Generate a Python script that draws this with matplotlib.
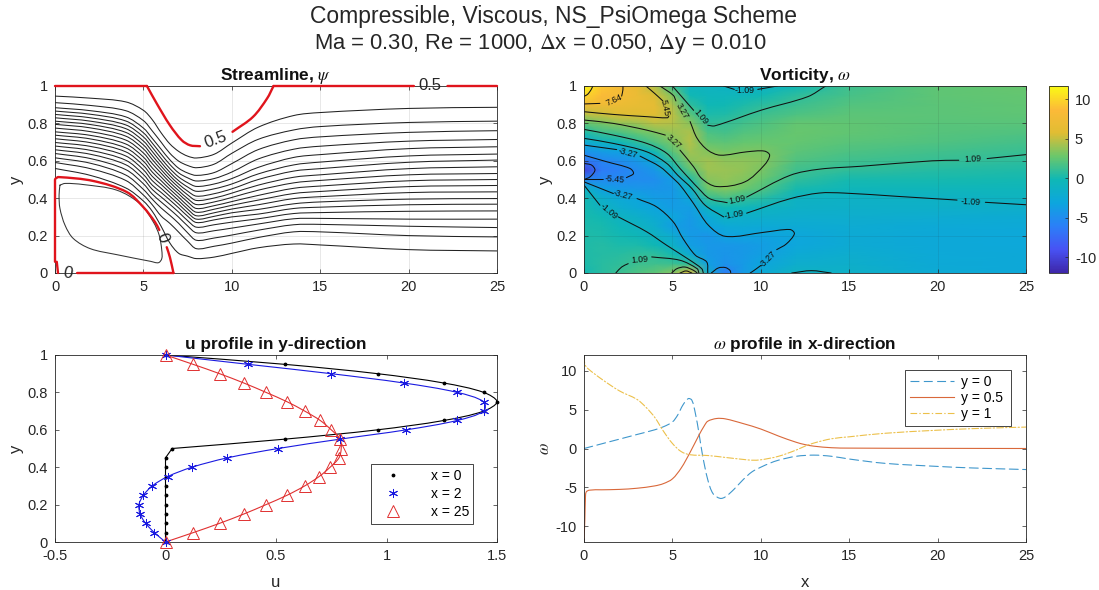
#!/usr/bin/env python3
import numpy as np
import matplotlib as mpl
mpl.use('Agg')
import matplotlib.pyplot as plt
from matplotlib.path import Path
from matplotlib.patches import PathPatch
from matplotlib.colors import LinearSegmentedColormap

plt.rcParams['font.family'] = ['Liberation Sans', 'DejaVu Sans']
plt.rcParams['mathtext.fontset'] = 'stix'
plt.rcParams['axes.unicode_minus'] = False

WIDTH, HEIGHT = 1099, 590
DARK = '#262626'

# streamlines: y of each line (top to bottom) at every x station
stream_x = [0, 2, 4, 5, 5.5, 6, 6.5, 7, 7.5, 8, 9, 10, 11.5, 13.5, 15, 20, 25]
stream_y = [
    [.946, .911, .884, .866, .848, .830, .812, .795, .775, .755, .737, .718, .698, .679, .659, .639, .616, .591, .559],
    [.935, .896, .868, .849, .830, .812, .794, .776, .756, .736, .717, .697, .677, .656, .635, .612, .587, .558, .522],
    [.915, .868, .835, .813, .792, .772, .752, .732, .711, .690, .669, .648, .626, .603, .579, .553, .524, .495, .455],
    [.870, .815, .775, .750, .728, .706, .685, .664, .642, .620, .598, .575, .552, .527, .503, .477, .447, .417, .385],
    [.820, .760, .720, .695, .672, .650, .628, .607, .585, .562, .540, .517, .494, .470, .447, .422, .395, .365, .330],
    [.750, .700, .662, .636, .613, .592, .572, .553, .534, .514, .494, .474, .453, .431, .407, .380, .348, .305, .250],
    [.690, .640, .605, .580, .558, .538, .520, .502, .484, .466, .448, .430, .410, .390, .367, .340, .308, .265, .160],
    [.650, .598, .560, .535, .513, .493, .475, .458, .440, .423, .405, .387, .368, .348, .325, .298, .265, .218, .105],
    [.625, .575, .535, .509, .483, .460, .438, .418, .398, .380, .360, .342, .323, .304, .280, .252, .215, .170, .090],
    [.615, .563, .522, .492, .463, .437, .411, .388, .366, .345, .325, .306, .288, .270, .245, .215, .175, .130, .077],
    [.635, .582, .537, .505, .476, .450, .424, .401, .380, .360, .341, .322, .303, .284, .258, .226, .187, .143, .085],
    [.695, .640, .585, .540, .505, .476, .450, .427, .404, .382, .362, .342, .322, .300, .272, .240, .203, .160, .105],
    [.780, .715, .660, .610, .565, .530, .500, .470, .443, .415, .390, .365, .340, .315, .290, .262, .229, .190, .135],
    [.842, .765, .712, .662, .618, .578, .545, .512, .482, .453, .425, .398, .370, .345, .318, .290, .258, .220, .155],
    [.858, .783, .728, .678, .633, .593, .558, .525, .495, .465, .436, .408, .380, .352, .323, .292, .260, .220, .150],
    [.880, .805, .752, .705, .665, .626, .592, .558, .525, .493, .462, .430, .395, .365, .330, .288, .250, .200, .125],
    [.886, .812, .761, .714, .675, .636, .604, .568, .532, .500, .468, .434, .398, .368, .332, .288, .243, .193, .118],
]

recirc_loop = [(.28, .47), (.57, .479), (1.6, .473), (3.49, .443), (4.8, .371), (5.56, .273), (5.9, .20), (6.04, .121),
               (6.04, .077), (5.85, .055), (5.4, .0625), (3.5, .098), (2, .13), (1.04, .184), (.57, .255), (.28, .345),
               (.23, .416), (.28, .47)]

# thick red psi = 0.5 and psi = 0 lines
psi_half_a = [(5.2, 1), (5.75, .907), (6.5, .79), (7.17, .71), (7.64, .683), (8.2, .678)]
psi_half_b = [(10.04, .755), (11.2, .835), (12, .934), (12.36, 1)]
psi_half_flat = [[(0, 1), (5.2, 1)], [(12.36, 1), (20.3, 1)], [(22.2, 1), (25, 1)]]
psi_zero_a = [(.03, .505), (.2, .513), (2.17, .492), (4.06, .433), (5, .352), (5.66, .272), (5.9, .23)]
psi_zero_b = [(6.32, .138), (6.5, .084), (6.7, 0)]
psi_zero_flat = [[(0, .06), (0, .50)], [(6.7, 0), (1.25, 0)], [(.1, .06), (.17, 0)]]

# vorticity field
field_x = [0, 1, 2, 3, 4, 5, 6, 7, 8, 9, 10, 12, 15, 20, 25]
field_y = [0, .05, .1, .15, .2, .25, .3, .35, .4, .45, .5, .55, .6, .65, .7, .75, .8, .85, .9, .95, 1]
field = [
    [0, .6, 1.2, 1.8, 2.4, 3.5, 6.4, -1.5, -6.3, -4, -2.5, -1, -1.4, -2.4, -2.7],
    [.3, .6, .9, 1.3, 1.4, 1.3, .8, -3.5, -4.6, -4, -3.2, -1.9, -1.7, -2.5, -2.7],
    [.4, .5, .6, .9, .9, .1, -2.2, -4.1, -4.4, -4.1, -3.6, -2.4, -2, -2.6, -2.7],
    [.4, .5, .3, .3, -.2, -1.4, -3.6, -4.2, -4.3, -4.1, -3.8, -3, -2.3, -2.7, -2.8],
    [.4, .3, 0, -.4, -1, -2.1, -3.9, -4.4, -3.3, -3.2, -3.3, -2.9, -2.4, -2.7, -2.8],
    [.3, .2, -.5, -.9, -1.8, -3.6, -4.2, -3.2, -2.6, -2.4, -2.5, -2.4, -2.2, -2.5, -2.6],
    [.2, -.1, -1, -1.5, -2.3, -3, -4, -2.5, -1.1, -1.6, -1.7, -1.9, -1.9, -2.1, -2.3],
    [.1, -1, -1.9, -2.5, -3.2, -3.8, -3.7, -1, -.2, -.5, -.8, -1.4, -1.5, -1.5, -1.7],
    [0, -1.7, -2.6, -3.1, -3.8, -4, -2.8, 1, 1.6, 1.1, .6, -1.1, -1.3, -1.2, -.9],
    [-1, -3.4, -4, -4.2, -4.4, -4.2, -1.3, 2.9, 3.4, 2.8, 2, .1, -.5, -.6, -.6],
    [-5.5, -5.3, -5.2, -5.1, -4.9, -3.8, .3, 3.5, 3.8, 3.4, 2.7, .9, .1, .05, 0],
    [-10, -6.3, -5.8, -5.1, -4.2, -1.1, 2.3, 4.1, 4, 3.8, 3.2, 1.4, .9, .5, .4],
    [-6.9, -5.5, -5, -4.2, -2.5, .9, 3.6, 4.2, 3.7, 3.7, 3.5, 1.9, 1.4, 1.1, .8],
    [-4.5, -3.8, -3.3, -1.9, 0, 2.2, 4.2, 3.4, 3, 3.2, 3.2, 2.3, 1.8, 1.5, 1.2],
    [-2.3, -1.1, -.4, .8, 1.9, 3.27, 4.6, 2.5, 2.3, 2.6, 2.7, 2.6, 2.2, 1.9, 1.6],
    [.3, 1.3, 1.7, 2.6, 3.2, 3.9, 4.4, 1.8, 1.6, 2, 2.2, 2.7, 2.5, 2.1, 1.9],
    [2.4, 3.1, 3.7, 4, 4.8, 4.6, 3.6, .9, 1.1, 1.5, 1.8, 2.6, 2.5, 2.2, 2.2],
    [4.8, 5.3, 5.7, 5.7, 5.9, 4.9, 2.2, .3, .4, .9, 1.25, 1.8, 2.3, 2.3, 2.4],
    [7.4, 7.4, 7, 6.6, 6.2, 4.4, .9, -.2, -.1, .3, .7, 1.3, 2, 2.3, 2.5],
    [10, 8.6, 7.9, 6.9, 5.6, 3.3, -.1, -.6, -.7, -.5, -.1, .8, 1.7, 2.4, 2.6],
    [11.8, 9.3, 8, 6.6, 4.5, 1.2, -.8, -.9, -1.1, -1.4, -1.4, -.3, 1.4, 2.4, 2.7],
]

# vorticity contour lines, split where their labels sit
contour_lines = [
    [(0, .945), (.2, .955), (.4, .98), (.5, 1)],
    [(0, .904), (.9, .907)],
    [(2.13, .946), (2.2, .979), (2.2, 1)],
    [(0, .8625), (1.66, .848), (3.55, .836), (4.72, .83), (4.8, .84)],
    [(4.45, .921), (4, .96), (3.5, 1)],
    [(0, .818), (1.66, .8), (3.55, .764), (4.6, .7375)],
    [(5.43, .657), (6.2, .568), (6.66, .505), (7.5, .4625), (9.1, .4875), (10.2, .577), (10.5, .63), (10.2, .652),
     (9.2, .648), (7.7, .63), (7, .657), (6.4, .72), (6, .81)],
    [(5.2, .92), (5.05, .95), (4.3, 1)],
    [(5, 1), (6.2, .87)],
    [(7, .79), (7.4, .787), (10.03, .871), (12.66, .943), (13.67, 1)],
    [(0, .768), (1.66, .7375), (3.55, .693), (4.68, .64), (5.43, .559), (6.1, .49), (6.4, .46), (7.1, .398), (8.1, .376)],
    [(9.2, .406), (11.65, .522), (13.3, .555), (15.7, .571), (19.7, .6), (21.2, .603)],
    [(22.8, .612), (25, .633)],
    [(0, .72), (1.66, .693), (3.55, .648), (4.68, .586), (5.3, .523), (6.1, .452), (6.85, .3625), (7.9, .3)],
    [(9.2, .32), (11.65, .397), (13.3, .4275), (14.7, .4275), (17.7, .41), (21.1, .39)],
    [(22.7, .378), (25, .365)],
    [(0, .684), (1.85, .66)],
    [(3.17, .625), (4.3, .568), (5, .51), (5.43, .47), (6.2, .371), (7.04, .255), (8, .196), (10.2, .218), (11.65, .2325),
     (11.9, .21), (11.45, .156), (10.9, .125)],
    [(10, .04), (9.6, .0125), (9.4, 0)],
    [(0, .63), (1.28, .595), (2.6, .559), (2.8, .532), (2.4, .51)],
    [(1.09, .5), (0, .5)],
    [(0, .586), (.43, .577), (.62, .55), (.34, .514), (0, .5)],
    [(0, .4875), (1.66, .425)],
    [(3, .398), (4.1, .354), (5.05, .273), (5.6, .184), (6.3, .095), (6.94, .059), (7, 0)],
    [(0, .47), (.9, .3625)],
    [(1.94, .3), (3.55, .22), (4.68, .148), (6, .068), (6.66, .023), (6.75, 0)],
    [(1.8, 0), (2.13, .032), (2.5, .05)],
    [(3.83, .086), (5.43, .068), (6.4, .023), (6.5, 0)],
    [(4.96, 0), (5.25, .023), (5.7, .032), (6.2, .014), (6.4, 0)],
    [(5.43, 0), (5.77, .011), (6.1, 0)],
    [(7.2, 0), (7.6, .027), (8, .029), (8.26, .014), (8.3, 0)],
    [(7.9, 1), (8.5, .982)],
    [(9.83, .982), (10.94, 1)],
    [(11.75, 0), (12.86, .0125), (13.98, 0)],
]
contour_labels = ['7.64', '5.45', '3.27', '1.09', '-1.09', '3.27', '-3.27', '-5.45', '-3.27', '-1.09',
                  '1.09', '1.09', '-1.09', '-3.27', '1.09', '-1.09']
label_x = [1.7, 4.6, 5.53, 6.6, 9.1, 5.05, 2.5, 1.75, 2.2, 1.43, 3.17, 8.68, 8.5, 10.4, 22, 21.9]
label_y = [.925, .885, .868, .832, .978, .70, .64, .50, .416, .327, .071, .389, .309, .075, .608, .38]
label_rot = [25, -78, -60, -50, 0, -42, -15, -5, -15, -40, 5, 12, 10, 45, 3, -3]

# u profiles
profile_y = [0, .05, .1, .15, .2, .25, .3, .35, .4, .45, .5, .55, .6, .65, .7, .75, .8, .85, .9, .95, 1]
u_x0 = [0, 0, 0, 0, 0, 0, 0, 0, 0, 0, .03, .54, .96, 1.26, 1.44, 1.5, 1.44, 1.26, .96, .54, 0]
u_x2 = [0, -.05, -.09, -.115, -.12, -.10, -.06, .01, .12, .28, .51, .79, 1.09, 1.32, 1.44, 1.44, 1.32, 1.08, .75, .375, 0]
u_x25 = [0, .125, .245, .355, .455, .55, .63, .695, .745, .785, .795, .79, .75, .70, .63, .55, .455, .355, .245, .125, 0]

# omega profiles
wx_y0 = [0, 1, 2, 3, 4, 4.5, 5, 5.3, 5.6, 5.9, 6.1, 6.3, 6.5, 6.7, 7, 7.3, 7.7, 8, 8.5, 9, 9.5, 10, 10.5, 11, 12, 13, 14, 15, 17, 20, 22, 25]
w_y0 = [0, .6, 1.2, 1.8, 2.4, 2.8, 3.4, 4.3, 5.6, 6.4, 6.2, 4.5, 2, -.8, -4, -5.8, -6.4, -6.2, -5.2, -4, -3, -2.4, -1.9, -1.5, -1, -.85, -1, -1.35, -1.9, -2.3, -2.5, -2.7]
wx_y05 = [0, .05, .08, .12, .3, 1, 2, 3, 4, 4.5, 5, 5.5, 6, 6.5, 6.8, 7, 7.5, 8, 9, 10, 11, 12, 12.5, 13, 14, 15, 20, 25]
w_y05 = [-12, -9, -6.5, -5.6, -5.35, -5.3, -5.25, -5.1, -4.8, -4.5, -3.9, -2.5, -.5, 1.7, 2.9, 3.5, 3.85, 3.8, 3.2, 2.5, 1.6, .8, .5, .3, .1, .05, .02, 0]
wx_y1 = [0, .05, .2, 1, 2, 3, 3.5, 4, 4.5, 5, 5.5, 6, 7, 8, 9, 9.5, 10, 11, 12, 12.5, 13, 14, 15, 17, 20, 22, 25]
w_y1 = [11.8, 10.8, 10.3, 8.9, 7.4, 6.3, 5.3, 4, 2.2, .65, -.4, -.8, -.9, -1.15, -1.4, -1.5, -1.45, -1, -.2, .3, .7, 1.25, 1.5, 1.95, 2.35, 2.55, 2.75]

parula = LinearSegmentedColormap.from_list('parula', [
    (.2422, .1504, .6603), (.2810, .3228, .9579), (.17, .50, .97), (.05, .65, .87), (.06, .72, .71),
    (.42, .78, .42), (.88, .74, .2), (.99, .73, .22), (.98, .98, .08)])


def smooth_curve(ax, x, y, **kwargs):
    # hermite curve through the read points, so the lines don't look faceted
    pts = np.column_stack([x, y]).astype(float)
    px = ax.transData.transform(pts)
    h = np.maximum(np.hypot(*np.diff(px, axis=0).T), 1e-6)
    s = np.diff(pts, axis=0) / h[:, None]
    m = np.vstack([s[:1], (h[:-1, None] * s[:-1] + h[1:, None] * s[1:]) / (h[:-1, None] + h[1:, None]), s[-1:]])
    verts = [pts[0]]
    for i in range(len(pts) - 1):
        verts += [pts[i] + m[i] * h[i] / 3, pts[i+1] - m[i+1] * h[i] / 3, pts[i+1]]
    codes = [Path.MOVETO] + [Path.CURVE4] * (len(verts) - 1)
    ax.add_patch(PathPatch(Path(verts, codes), fill=False, capstyle='round', **kwargs))


def pairs(ax, points, **kwargs):
    smooth_curve(ax, *zip(*points), **kwargs)


def make_axes(left, top, right, bottom, xlim, ylim):
    ax = fig.add_axes([left / WIDTH, 1 - bottom / HEIGHT, (right - left) / WIDTH, (bottom - top) / HEIGHT])
    ax.set_xlim(*xlim)
    ax.set_ylim(*ylim)
    ax.tick_params(direction='in', length=3.2, width=.5, top=True, right=True, colors=DARK, labelsize=10.5, pad=5)
    for spine in ax.spines.values():
        spine.set_linewidth(.6)
        spine.set_color(DARK)
    return ax


fig = plt.figure(figsize=(WIDTH / 100, HEIGHT / 100), dpi=100)
fig.text(553 / WIDTH, 1 - 17 / HEIGHT, 'Compressible, Viscous, NS_PsiOmega Scheme', ha='center', va='center', fontsize=16.5, color=DARK)
fig.text(540 / WIDTH, 1 - 44 / HEIGHT, r'Ma = 0.30, Re = 1000, $\Delta$x = 0.050, $\Delta$y = 0.010', ha='center', va='center', fontsize=15.8, color=DARK)

# streamlines
ax = make_axes(55, 86, 497, 273, (0, 25), (0, 1))
rows = np.array(stream_y)
for k in range(rows.shape[1]):
    smooth_curve(ax, stream_x, rows[:, k], color='#222222', lw=.75)
pairs(ax, recirc_loop, color='#333333', lw=.75)
for seg in (psi_half_a, psi_half_b, psi_zero_a, psi_zero_b, *psi_half_flat, *psi_zero_flat):
    pairs(ax, seg, color='#e0141c', lw=1.7, clip_on=False, zorder=4)
ax.text(21.2, 1, '0.5', fontsize=12, ha='center', va='center', color=DARK, zorder=5)
ax.text(9.1, .71, '0.5', fontsize=12, ha='center', va='center', rotation=20, color=DARK, zorder=5)
ax.text(.7, 0, '0', fontsize=12, ha='center', va='center', rotation=-10, color=DARK, zorder=5)
ax.text(6.05, .19, '0', fontsize=12, ha='center', va='center', rotation=-70, color=DARK, zorder=5)
ax.set_xticks([0, 5, 10, 15, 20, 25])
ax.set_yticks([0, .2, .4, .6, .8, 1], labels=['0', '0.2', '0.4', '0.6', '0.8', '1'])
ax.grid(True, color='#262626', alpha=.12, lw=.6)
ax.set_axisbelow(True)
ax.set_ylabel('y', fontsize=12, color=DARK, labelpad=3)
ax.set_title(r'Streamline, $\psi$', fontsize=12.4, fontweight='bold', pad=4, color='#111111')

# vorticity
ax = make_axes(584, 86, 1026, 273, (0, 25), (0, 1))
mesh = ax.pcolormesh(field_x, field_y, np.array(field), shading='gouraud', cmap=parula, vmin=-12, vmax=11.7, rasterized=True)
for seg in contour_lines:
    pairs(ax, seg, color='#111111', lw=.75)
for txt, lx, ly, rot in zip(contour_labels, label_x, label_y, label_rot):
    ax.text(lx, ly, txt, fontsize=6.3, ha='center', va='center', rotation=rot, color='#111111')
ax.set_xticks([0, 5, 10, 15, 20, 25])
ax.set_yticks([0, .2, .4, .6, .8, 1], labels=['0', '0.2', '0.4', '0.6', '0.8', '1'])
ax.grid(True, color='#262626', alpha=.1, lw=.6)
ax.set_ylabel('y', fontsize=12, color=DARK, labelpad=3)
ax.set_title(r'Vorticity, $\omega$', fontsize=12.4, fontweight='bold', pad=4, color='#111111')

cax = fig.add_axes([1049 / WIDTH, 1 - 273 / HEIGHT, 19 / WIDTH, 187 / HEIGHT])
cbar = fig.colorbar(mesh, cax=cax)
cbar.set_ticks([-10, -5, 0, 5, 10])
cbar.ax.tick_params(direction='in', length=2.5, width=.5, colors=DARK, labelsize=10.5, pad=5)
cbar.outline.set_linewidth(.6)
cbar.outline.set_edgecolor(DARK)

# u profiles
ax = make_axes(55, 355, 497, 542, (-.5, 1.5), (0, 1))
ax.plot(u_x0[:11], profile_y[:11], color='black', lw=.8)
smooth_curve(ax, u_x0[10:], profile_y[10:], color='black', lw=.8)
smooth_curve(ax, u_x2, profile_y, color='#1a1ae0', lw=.8)
smooth_curve(ax, u_x25, profile_y, color='#e03030', lw=.8)
ax.plot(u_x0, profile_y, ls='none', marker='.', ms=3.5, color='black', label='x = 0', clip_on=False, zorder=5)
ax.plot(u_x2, profile_y, ls='none', marker=(6, 2, 0), ms=6.5, mew=.7, color='#1a1ae0', label='x = 2', clip_on=False, zorder=5)
ax.plot(u_x25, profile_y, ls='none', marker='^', ms=8.5, mew=.7, mfc='none', color='#e03030', label='x = 25', clip_on=False, zorder=5)
ax.set_xticks([-.5, 0, .5, 1, 1.5], labels=['-0.5', '0', '0.5', '1', '1.5'])
ax.set_yticks([0, .2, .4, .6, .8, 1], labels=['0', '0.2', '0.4', '0.6', '0.8', '1'])
ax.set_xlabel('u', fontsize=12, color=DARK, labelpad=9)
ax.set_ylabel('y', fontsize=12, color=DARK, labelpad=3)
ax.set_title('u profile in y-direction', fontsize=12.4, fontweight='bold', pad=4, color='#111111')
ax.legend(loc='lower left', bbox_to_anchor=((371 - 55) / 442, (542 - 524) / 187, 102 / 442, 59 / 187), mode='expand',
          fancybox=False, framealpha=1, edgecolor=DARK, fontsize=10, borderaxespad=0, handletextpad=1.5,
          labelspacing=.3, borderpad=.35, handlelength=2.5).get_frame().set_linewidth(.6)

# omega profiles
ax = make_axes(584, 355, 1026, 542, (0, 25), (-12, 12))
smooth_curve(ax, wx_y0, w_y0, color='#3f97cc', lw=.8, ls=(0, (8, 4)))
smooth_curve(ax, wx_y05, w_y05, color='#d9683a', lw=.8)
smooth_curve(ax, wx_y1, w_y1, color='#ecc04a', lw=.8, ls=(0, (6, 2, 1.2, 2)))
ax.plot([], [], color='#3f97cc', lw=.8, ls=(0, (8, 4)), label='y = 0')
ax.plot([], [], color='#d9683a', lw=.8, label='y = 0.5')
ax.plot([], [], color='#ecc04a', lw=.8, ls=(0, (6, 2, 1.2, 2)), label='y = 1')
ax.set_xticks([0, 5, 10, 15, 20, 25])
ax.set_yticks([-10, -5, 0, 5, 10])
ax.set_xlabel('x', fontsize=12, color=DARK, labelpad=9)
ax.set_ylabel(r'$\omega$', fontsize=12, color=DARK, labelpad=3)
ax.set_title(r'$\omega$ profile in x-direction', fontsize=12.4, fontweight='bold', pad=4, color='#111111')
ax.legend(loc='lower left', bbox_to_anchor=((905 - 584) / 442, (542 - 426) / 187, 106 / 442, 59 / 187), mode='expand',
          fancybox=False, framealpha=1, edgecolor=DARK, fontsize=10, borderaxespad=0, handletextpad=.5,
          labelspacing=.15, borderpad=.35, handlelength=3.2).get_frame().set_linewidth(.6)

fig.savefig('out.png', dpi=100)
